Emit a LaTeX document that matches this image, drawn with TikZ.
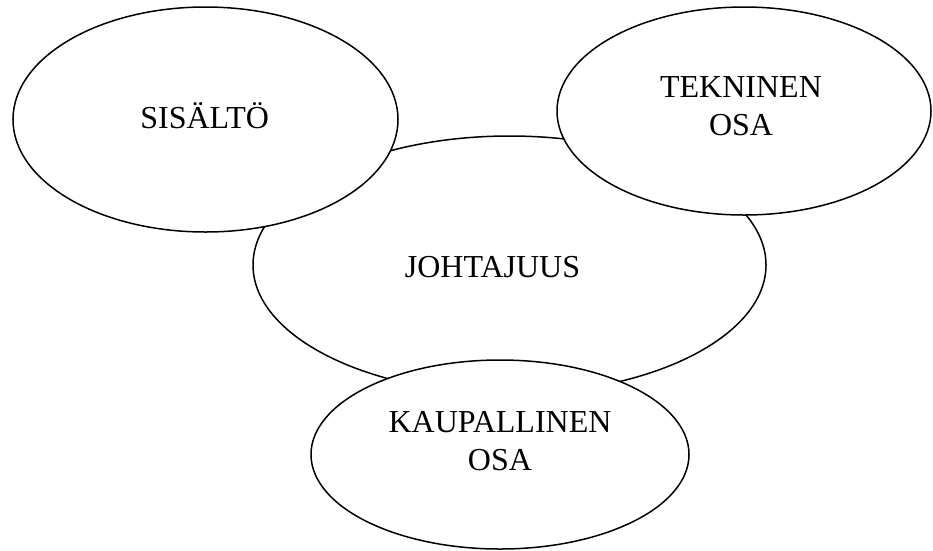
\documentclass[tikz,border=0pt]{standalone}
\usepackage{fontspec}
\setmainfont{Liberation Serif}
\usetikzlibrary{shapes.geometric}

\tikzset{
  blob/.style={ellipse, draw=black, fill=white, line width=1.5pt, inner sep=0pt},
  word/.style={anchor=base, align=center, inner sep=0pt,
    font=\fontsize{32pt}{38pt}\selectfont}
}

\begin{document}
\begin{tikzpicture}[x=1pt, y=-1pt]
  \useasboundingbox (0,0) rectangle (933,550);

  % central ellipse first, the others overlap it
  \node[blob, minimum width=513pt, minimum height=258pt] (johtajuus) at (509.5,265) {};
  \node[blob, minimum width=385pt, minimum height=225pt] (sisalto) at (205.5,119.5) {};
  \node[blob, minimum width=374pt, minimum height=208pt] (tekninen) at (744,111) {};
  \node[blob, minimum width=378pt, minimum height=189pt] (kaupallinen) at (500,454.5) {};

  % labels (base anchor sits on the last line)
  \node[word] (tJoh) at (492.5,277.7) {JOHTAJUUS};
  \node[word] (tSis) at (204.7,128) {SISÄLTÖ};
  \node[word] (tTek) at (741,135) {TEKNINEN\\OSA};
  \node[word] (tKau) at (500,470) {KAUPALLINEN\\OSA};
\end{tikzpicture}
\end{document}
